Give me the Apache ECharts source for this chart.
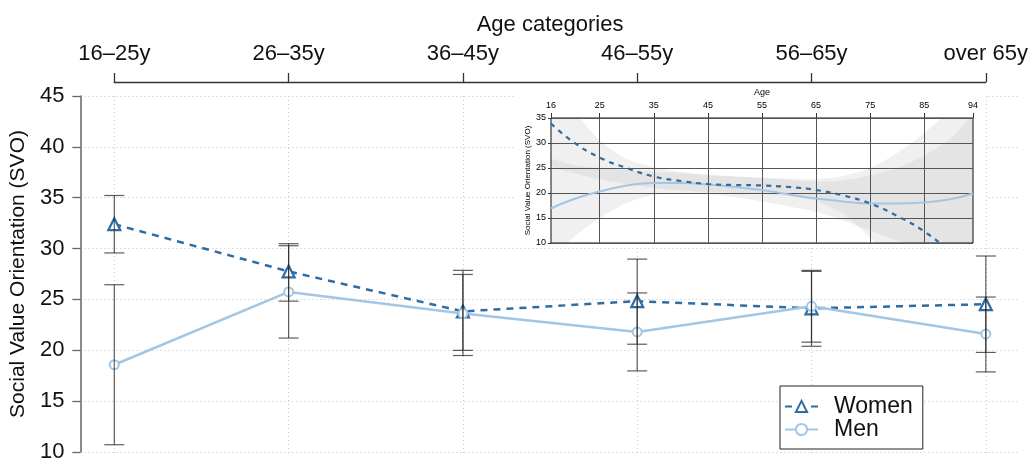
<!DOCTYPE html>
<html>
<head>
<meta charset="utf-8">
<script src="https://cdn.jsdelivr.net/npm/echarts@6/dist/echarts.min.js"></script>
<style>
html,body{margin:0;padding:0;background:#fff;}
#chart{width:1031px;height:463px;}
</style>
</head>
<body>
<div id="chart"></div>
<script>
// ---- main chart data ----
const categories = ['16\u201325y', '26\u201335y', '36\u201345y', '46\u201355y', '56\u201365y', 'over 65y'];
const women     = [32.5, 27.9, 24.0, 25.0, 24.3, 24.7];
const womenLow  = [29.7, 25.0, 20.2, 20.8, 20.6, 20.0];
const womenHigh = [35.3, 30.6, 28.0, 29.1, 27.9, 29.4];
const men       = [18.8, 25.9, 23.8, 22.0, 24.5, 21.8];
const menLow    = [11.0, 21.4, 19.7, 18.2, 21.0, 18.1];
const menHigh   = [26.6, 30.4, 27.6, 25.8, 28.0, 25.4];
const yTicks = [10, 15, 20, 25, 30, 35, 40, 45];

// ---- inset data ----
const insetTicks = [16, 25, 35, 45, 55, 65, 75, 85, 94];
const insetAge   = [16, 20, 25, 30, 35, 40, 45, 50, 55, 60, 65, 70, 75, 80, 85, 90, 94];
const menFit     = [16.9, 18.7, 20.3, 21.5, 22.0, 22.0, 21.7, 21.2, 20.6, 19.7, 18.9, 18.3, 17.9, 17.9, 18.1, 18.8, 19.9];
const womenFit   = [33.9, 30.3, 27.1, 25.0, 23.3, 22.4, 21.8, 21.6, 21.5, 21.2, 20.6, 19.5, 17.9, 15.4, 12.3, 8.0, 4.0];
const menUpper   = [26.5, 25.6, 25.0, 24.6, 24.2, 24.0, 23.7, 23.3, 23.0, 22.6, 22.3, 22.5, 23.5, 25.0, 27.5, 31.0, 35.0];
const menLower   = [7.0, 11.0, 15.0, 18.0, 19.6, 20.0, 19.8, 19.2, 18.3, 17.3, 16.2, 14.5, 12.5, 10.5, 8.5, 6.0, 3.0];
const womenUpper = [44.0, 37.0, 30.5, 26.8, 25.2, 24.2, 23.6, 23.3, 23.1, 22.9, 22.8, 23.4, 25.0, 28.0, 32.0, 37.0, 42.0];
const womenLower = [25.8, 24.0, 22.8, 21.8, 21.0, 20.5, 20.2, 20.0, 19.8, 19.4, 18.4, 15.8, 11.0, 5.0, 0.0, -5.0, -10.0];

const WOMEN_C = '#2e6da4';
const MEN_C = '#a3c6e4';
const FONT = 'Liberation Sans, Arial, Helvetica, sans-serif';

function pairs(xs, ys) { return xs.map((x, i) => [x, ys[i]]); }

function errorBars(low, high) {
  return {
    type: 'custom',
    xAxisIndex: 0, yAxisIndex: 0,
    z: 4,
    silent: true,
    data: low.map((l, i) => [i, l, high[i]]),
    renderItem: function (params, api) {
      const i = api.value(0);
      const lo = api.coord([i, api.value(1)]);
      const hi = api.coord([i, api.value(2)]);
      const hw = 10;
      const st = { stroke: 'rgba(40,40,40,0.75)', lineWidth: 1.2 };
      return {
        type: 'group',
        children: [
          { type: 'line', shape: { x1: lo[0], y1: lo[1], x2: hi[0], y2: hi[1] }, style: st },
          { type: 'line', shape: { x1: lo[0] - hw, y1: lo[1], x2: lo[0] + hw, y2: lo[1] }, style: st },
          { type: 'line', shape: { x1: hi[0] - hw, y1: hi[1], x2: hi[0] + hw, y2: hi[1] }, style: st }
        ]
      };
    }
  };
}

function band(upper, lower) {
  return {
    type: 'custom',
    xAxisIndex: 2, yAxisIndex: 2,
    z: 4,
    silent: true,
    data: [[insetAge[0], upper[0]]],
    renderItem: function (params, api) {
      const pts = [];
      for (let k = 0; k < insetAge.length; k++) pts.push(api.coord([insetAge[k], upper[k]]));
      for (let k = insetAge.length - 1; k >= 0; k--) pts.push(api.coord([insetAge[k], lower[k]]));
      const cs = params.coordSys;
      return {
        type: 'polygon',
        shape: { points: pts, smooth: 0.25 },
        style: { fill: 'rgba(180,180,180,0.2)', stroke: null },
        clipPath: { type: 'rect', shape: { x: cs.x, y: cs.y, width: cs.width, height: cs.height } }
      };
    }
  };
}

const chart = echarts.init(document.getElementById('chart'), null, { renderer: 'canvas' });

const option = {
  animation: false,
  backgroundColor: '#fff',
  textStyle: { fontFamily: FONT },
  graphic: [{
    type: 'rect', z: 3, silent: true,
    shape: { x: 516, y: 84, width: 470, height: 164 },
    style: { fill: '#fff' }
  }],
  legend: {
    data: ['Women', 'Men'],
    orient: 'vertical',
    left: 780, top: 386,
    itemGap: 0,
    itemWidth: 33, itemHeight: 14,
    padding: [9, 10, 8, 4],
    borderColor: '#222', borderWidth: 1,
    backgroundColor: '#fff',
    textStyle: { fontSize: 23, color: '#111', lineHeight: 22, padding: [0, 0, 0, 11], fontFamily: FONT },
    z: 10
  },
  grid: [
    { left: 114.3, right: 43.7, top: 96, bottom: 8 },           // data grid
    { left: 80, right: 11, top: 96, bottom: 8 },                  // full grid (y axis + horizontal grid)
    { left: 551, right: 58, top: 118, bottom: 220, show: true, borderColor: '#111', borderWidth: 1, backgroundColor: 'transparent', z: 5 }
  ],
  xAxis: [
    {
      gridIndex: 0, type: 'category', data: categories, position: 'top', boundaryGap: false,
      offset: 14,
      axisLine: { show: true, lineStyle: { color: '#333', width: 1.3 } },
      axisTick: { show: true, length: 9, alignWithLabel: true, lineStyle: { color: '#333', width: 1.3 } },
      axisLabel: { fontSize: 22, color: '#111', margin: 17, fontFamily: FONT },
      name: 'Age categories', nameLocation: 'middle', nameGap: 46,
      nameTextStyle: { fontSize: 22, color: '#111', fontFamily: FONT },
      splitLine: { show: true, lineStyle: { color: '#c4c4c4', type: [1, 3], width: 1 } }
    },
    {
      gridIndex: 1, type: 'value', min: 0, max: 1, show: false
    },
    {
      gridIndex: 2, type: 'value', min: 16, max: 94, position: 'top', z: 6,
      axisLine: { show: false },
      axisTick: { show: true, length: 5, customValues: insetTicks, lineStyle: { color: '#333' } },
      axisLabel: { fontSize: 9, color: '#000', margin: 8, customValues: insetTicks, fontFamily: FONT },
      splitLine: { show: false },
      name: 'Age', nameLocation: 'middle', nameGap: 21,
      nameTextStyle: { fontSize: 9, color: '#000', fontFamily: FONT }
    }
  ],
  yAxis: [
    { gridIndex: 0, type: 'value', min: 10, max: 45, interval: 5, show: false },
    {
      gridIndex: 1, type: 'value', min: 10, max: 45, interval: 5,
      axisLine: { show: true, lineStyle: { color: '#666', width: 1.5 } },
      axisTick: { show: true, length: 8, lineStyle: { color: '#666', width: 1.3 } },
      axisLabel: { fontSize: 22, color: '#111', margin: 16, fontFamily: FONT },
      splitLine: { show: true, lineStyle: { color: '#c4c4c4', type: [1, 3], width: 1 } },
      name: 'Social Value Orientation (SVO)', nameLocation: 'middle', nameGap: 48,
      nameTextStyle: { fontSize: 21, color: '#111', fontFamily: FONT }
    },
    {
      gridIndex: 2, type: 'value', min: 10, max: 35, interval: 5, z: 6,
      axisLine: { show: false },
      axisTick: { show: true, length: 3, lineStyle: { color: '#333' } },
      axisLabel: { fontSize: 9, color: '#000', margin: 5, fontFamily: FONT },
      splitLine: { show: true, lineStyle: { color: '#555', width: 1 } },
      name: 'Social Value Orientation (SVO)', nameLocation: 'middle', nameGap: 19,
      nameTextStyle: { fontSize: 8, color: '#000', fontFamily: FONT }
    }
  ],
  series: [
    {
      name: 'Women', type: 'line', xAxisIndex: 0, yAxisIndex: 0, z: 3,
      data: women,
      symbol: 'triangle', symbolSize: 12, showSymbol: true,
      lineStyle: { color: WOMEN_C, width: 2.5, type: [7, 6] },
      itemStyle: { color: '#fff', borderColor: WOMEN_C, borderWidth: 2.2 }
    },
    {
      name: 'Men', type: 'line', xAxisIndex: 0, yAxisIndex: 0, z: 3,
      data: men,
      symbol: 'circle', symbolSize: 9, showSymbol: true,
      lineStyle: { color: MEN_C, width: 2.5 },
      itemStyle: { color: '#fff', borderColor: MEN_C, borderWidth: 2 }
    },
    errorBars(womenLow, womenHigh),
    errorBars(menLow, menHigh),
    band(womenUpper, womenLower),
    band(menUpper, menLower),
    {
      type: 'line', xAxisIndex: 2, yAxisIndex: 2, z: 7, silent: true,
      data: pairs(insetAge, menFit), smooth: true, showSymbol: false, symbol: 'none',
      lineStyle: { color: MEN_C, width: 2 },
      markLine: {
        silent: true, symbol: 'none', label: { show: false },
        lineStyle: { color: '#555', width: 1, type: 'solid' },
        data: insetTicks.slice(1, -1).map(v => ({ xAxis: v }))
      }
    },
    {
      type: 'line', xAxisIndex: 2, yAxisIndex: 2, z: 8, silent: true,
      data: pairs(insetAge, womenFit), smooth: true, showSymbol: false, symbol: 'none',
      lineStyle: { color: WOMEN_C, width: 2.2, type: [5, 5] }
    }
  ]
};
chart.setOption(option);
</script>
</body>
</html>
